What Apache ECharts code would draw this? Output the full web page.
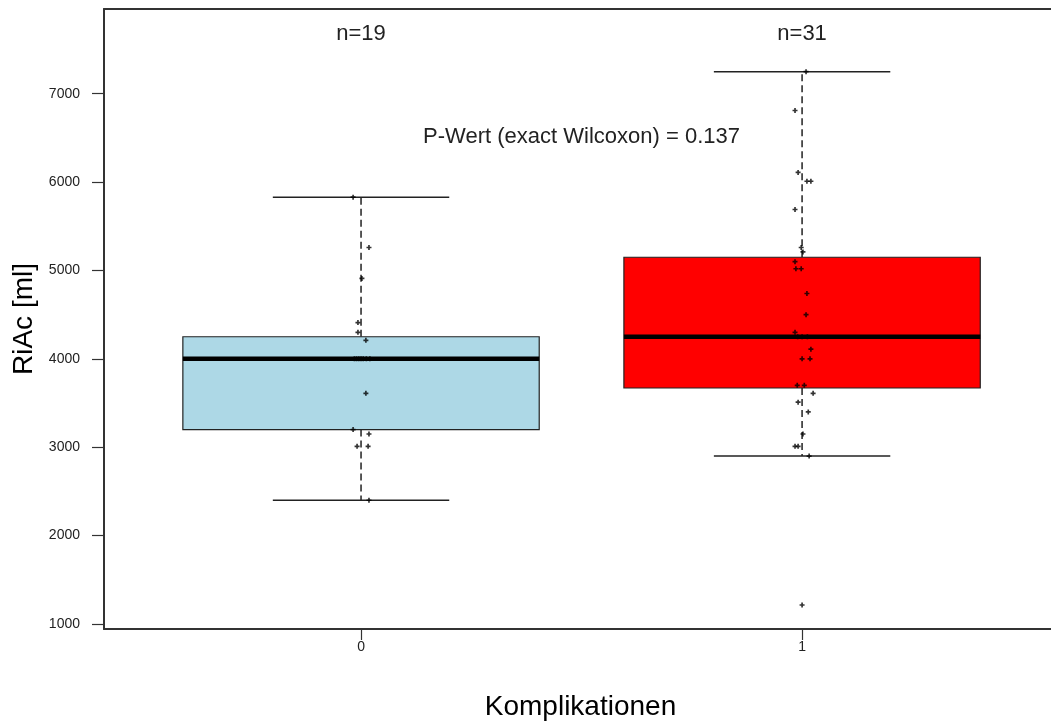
<!DOCTYPE html>
<html>
<head>
<meta charset="utf-8">
<script src="https://cdn.jsdelivr.net/npm/echarts@6/dist/echarts.min.js"></script>
<style>
html,body{margin:0;padding:0;background:#fff;}
#chart{width:1051px;height:722px;}
</style>
</head>
<body>
<div id="chart"></div>
<script>
// ---- data ----
const categories = ['0', '1'];
const nLabels = ['n=19', 'n=31'];
const boxMin = [2400, 2900];
const boxQ1 = [3200, 3670];
const boxMedian = [4000, 4250];
const boxQ3 = [4250, 5150];
const boxMax = [5830, 7250];
const boxColors = ['#ADD8E6', '#FF0000'];
const yTicks = [1000, 2000, 3000, 4000, 5000, 6000, 7000];
const pText = 'P-Wert (exact Wilcoxon) = 0.137';

// group 0 observations and their horizontal jitter (category units)
const group0Values = [5830, 5260, 4910, 4410, 4300, 4210, 4000, 4000, 4000, 4000, 4000, 4000, 4000, 3610, 3200, 3150, 3010, 3010, 2400];
const group0Jitter = [-0.018, 0.018, 0.002, -0.007, -0.007, 0.011, -0.015, -0.005, 0.005, 0.012, 0.02, -0.01, 0.0, 0.011, -0.018, 0.018, -0.009, 0.016, 0.018];
// group 1 observations and their horizontal jitter
const group1Values = [7250, 6810, 6110, 6010, 6010, 5690, 5260, 5210, 5100, 5020, 5020, 4740, 4500, 4300, 4250, 4250, 4250, 4110, 4000, 4000, 3700, 3700, 3610, 3510, 3400, 3150, 3010, 3010, 2900, 1215];
const group1Jitter = [0.009, -0.016, -0.009, 0.011, 0.020, -0.016, -0.002, 0.002, -0.016, -0.014, -0.002, 0.011, 0.009, -0.016, -0.01, 0.0, 0.012, 0.020, 0.0, 0.018, -0.011, 0.005, 0.025, -0.009, 0.014, 0.002, -0.016, -0.009, 0.016, 0.0];

// ---- layout constants ----
const BOX_HALF = 0.404;
const CAP_HALF = 0.2;
const FONT = '"Liberation Sans", Arial, sans-serif';
const X_MIN = -0.5828, X_MAX = 1.578;

const boxData = categories.map((c, i) => [i, boxMin[i], boxQ1[i], boxMedian[i], boxQ3[i], boxMax[i]]);
const pointData = [];
group0Values.forEach((v, k) => pointData.push([0 + group0Jitter[k], v]));
group1Values.forEach((v, k) => pointData.push([1 + group1Jitter[k], v]));

const chart = echarts.init(document.getElementById('chart'), null, {renderer: 'canvas'});

const option = {
  backgroundColor: '#fff',
  animation: false,
  grid: {left: 104, right: -6, top: 9, bottom: 93, show: false, containLabel: false, outerBoundsMode: 'none'},
  xAxis: [{
    type: 'value', min: X_MIN, max: X_MAX, position: 'bottom',
    splitLine: {show: false},
    axisLine: {show: true, onZero: false, lineStyle: {color: '#333', width: 2}},
    axisTick: {show: true, length: 11, customValues: [0, 1], lineStyle: {color: '#333', width: 1.2}},
    axisLabel: {customValues: [0, 1], formatter: v => categories[Math.round(v)], margin: 11,
      fontSize: 14, color: '#222', fontFamily: FONT},
    name: 'Komplikationen', nameLocation: 'middle', nameGap: 64,
    nameTextStyle: {fontSize: 28, color: '#000', fontFamily: FONT}
  }, {
    type: 'value', min: X_MIN, max: X_MAX, position: 'top',
    splitLine: {show: false},
    axisLine: {show: true, onZero: false, lineStyle: {color: '#333', width: 2}},
    axisTick: {show: false}, axisLabel: {show: false}
  }],
  yAxis: {
    type: 'value', min: 943, max: 7959,
    splitLine: {show: false},
    axisLine: {show: true, onZero: false, lineStyle: {color: '#333', width: 2}},
    axisTick: {show: true, length: 12, customValues: yTicks, lineStyle: {color: '#333', width: 1.2}},
    axisLabel: {customValues: yTicks, formatter: v => String(v), margin: 24, fontSize: 14, color: '#222', fontFamily: FONT},
    name: 'RiAc [ml]', nameLocation: 'middle', nameGap: 58, nameRotate: 90,
    nameTextStyle: {fontSize: 28, color: '#000', fontFamily: FONT}
  },
  series: [
    {
      type: 'custom',
      z: 2,
      data: boxData,
      renderItem: function (params, api) {
        const i = api.value(0);
        const cx = api.coord([i, 0])[0];
        const left = api.coord([i - BOX_HALF, 0])[0];
        const right = api.coord([i + BOX_HALF, 0])[0];
        const capL = api.coord([i - CAP_HALF, 0])[0];
        const capR = api.coord([i + CAP_HALF, 0])[0];
        const yMin = api.coord([i, api.value(1)])[1];
        const yQ1 = api.coord([i, api.value(2)])[1];
        const yMed = api.coord([i, api.value(3)])[1];
        const yQ3 = api.coord([i, api.value(4)])[1];
        const yMax = api.coord([i, api.value(5)])[1];
        const dash = {stroke: '#222', lineWidth: 1.5, lineDash: [7, 4]};
        const solid = {stroke: '#222', lineWidth: 1.5};
        return {
          type: 'group',
          children: [
            {type: 'line', shape: {x1: cx, y1: yQ3, x2: cx, y2: yMax}, style: dash},
            {type: 'line', shape: {x1: cx, y1: yQ1, x2: cx, y2: yMin}, style: dash},
            {type: 'line', shape: {x1: capL, y1: yMax, x2: capR, y2: yMax}, style: solid},
            {type: 'line', shape: {x1: capL, y1: yMin, x2: capR, y2: yMin}, style: solid},
            {type: 'rect', shape: {x: left, y: yQ3, width: right - left, height: yQ1 - yQ3},
              style: {fill: boxColors[i], stroke: '#222', lineWidth: 1.2}},
            {type: 'line', shape: {x1: left, y1: yMed, x2: right, y2: yMed},
              style: {stroke: '#000', lineWidth: 4.5}}
          ]
        };
      }
    },
    {
      type: 'scatter',
      z: 3,
      data: pointData,
      symbol: 'path://M0,2H6V4H0Z M2,0H4V6H2Z',
      symbolSize: 5,
      itemStyle: {color: '#000'},
      silent: true
    },
    {
      type: 'custom',
      z: 4,
      data: categories.map((c, i) => [i]),
      renderItem: function (params, api) {
        const i = api.value(0);
        const p = api.coord([i, 7676]);
        return {type: 'text', style: {text: nLabels[i], x: p[0], y: p[1], align: 'center', verticalAlign: 'middle',
          fontSize: 22, fill: '#222', fontFamily: FONT}};
      }
    },
    {
      type: 'custom',
      z: 4,
      data: [[0.5]],
      renderItem: function (params, api) {
        const p = api.coord([api.value(0), 6510]);
        return {type: 'text', style: {text: pText, x: p[0], y: p[1], align: 'center', verticalAlign: 'middle',
          fontSize: 22, fill: '#222', fontFamily: FONT}};
      }
    }
  ]
};
chart.setOption(option);
</script>
</body>
</html>
